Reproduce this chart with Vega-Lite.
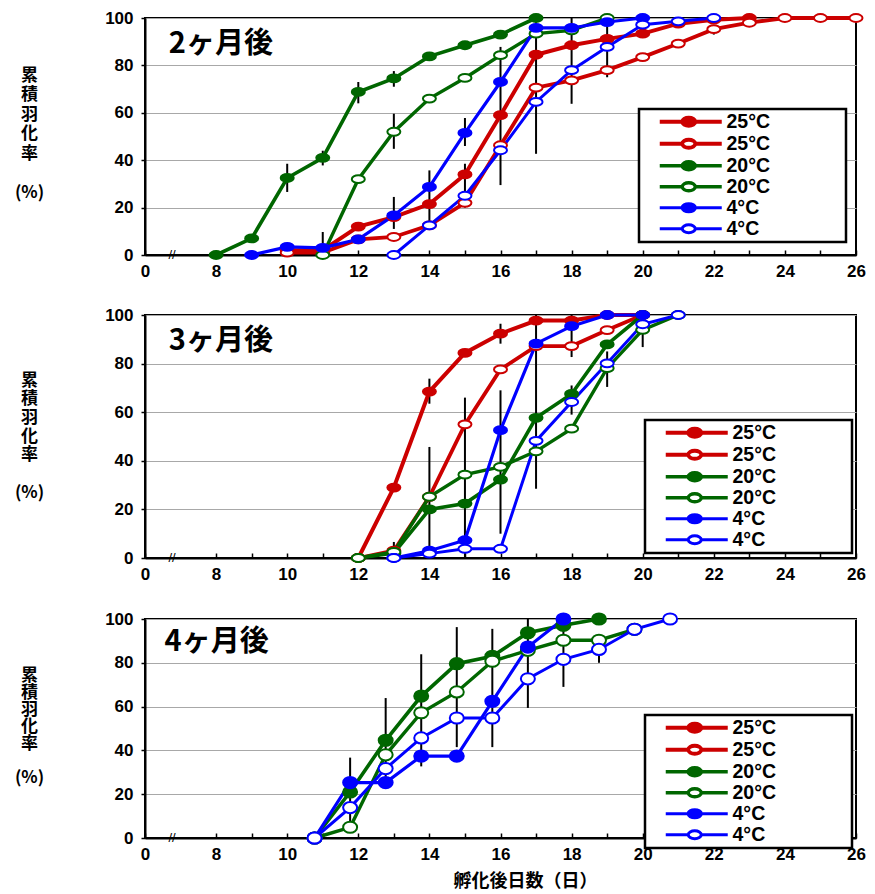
{
"$schema": "https://vega.github.io/schema/vega-lite/v6.json",
"background": "white",
"padding": {"left": 13, "top": 8, "right": 5, "bottom": 5},
"spacing": 25,
"datasets": {
"d2": [
{"s":"25°C f","x":10,"y":2},{"s":"25°C f","x":11,"y":2},{"s":"25°C f","x":12,"y":12},{"s":"25°C f","x":13,"y":16},{"s":"25°C f","x":14,"y":21.5},{"s":"25°C f","x":15,"y":34},{"s":"25°C f","x":16,"y":59},{"s":"25°C f","x":17,"y":84.5},{"s":"25°C f","x":18,"y":88.5},{"s":"25°C f","x":19,"y":91.2},{"s":"25°C f","x":20,"y":93.4},{"s":"25°C f","x":21,"y":97.6},{"s":"25°C f","x":22,"y":99.3},{"s":"25°C f","x":23,"y":100},
{"s":"25°C o","x":10,"y":1},{"s":"25°C o","x":11,"y":1},{"s":"25°C o","x":12,"y":6.6},{"s":"25°C o","x":13,"y":7.6},{"s":"25°C o","x":14,"y":12.5},{"s":"25°C o","x":15,"y":22},{"s":"25°C o","x":16,"y":46.3},{"s":"25°C o","x":17,"y":70.6},{"s":"25°C o","x":18,"y":73.7},{"s":"25°C o","x":19,"y":78},{"s":"25°C o","x":20,"y":83.5},{"s":"25°C o","x":21,"y":89.2},{"s":"25°C o","x":22,"y":95.3},{"s":"25°C o","x":23,"y":98},{"s":"25°C o","x":24,"y":100},{"s":"25°C o","x":25,"y":100},{"s":"25°C o","x":26,"y":100},
{"s":"20°C f","x":8,"y":0},{"s":"20°C f","x":9,"y":7},{"s":"20°C f","x":10,"y":32.5},{"s":"20°C f","x":11,"y":41},{"s":"20°C f","x":12,"y":68.8},{"s":"20°C f","x":13,"y":74.5},{"s":"20°C f","x":14,"y":83.8},{"s":"20°C f","x":15,"y":88.5},{"s":"20°C f","x":16,"y":93},{"s":"20°C f","x":17,"y":100},
{"s":"20°C o","x":11,"y":0},{"s":"20°C o","x":12,"y":32},{"s":"20°C o","x":13,"y":52},{"s":"20°C o","x":14,"y":66},{"s":"20°C o","x":15,"y":74.7},{"s":"20°C o","x":16,"y":84.3},{"s":"20°C o","x":17,"y":93.4},{"s":"20°C o","x":18,"y":94.8},{"s":"20°C o","x":19,"y":100},
{"s":"4°C f","x":9,"y":0},{"s":"4°C f","x":10,"y":3.4},{"s":"4°C f","x":11,"y":3},{"s":"4°C f","x":12,"y":6.6},{"s":"4°C f","x":13,"y":16.7},{"s":"4°C f","x":14,"y":28.7},{"s":"4°C f","x":15,"y":51.5},{"s":"4°C f","x":16,"y":73},{"s":"4°C f","x":17,"y":95.8},{"s":"4°C f","x":18,"y":95.8},{"s":"4°C f","x":19,"y":98.3},{"s":"4°C f","x":20,"y":100},
{"s":"4°C o","x":13,"y":0},{"s":"4°C o","x":14,"y":12.5},{"s":"4°C o","x":15,"y":25},{"s":"4°C o","x":16,"y":44.2},{"s":"4°C o","x":17,"y":64.6},{"s":"4°C o","x":18,"y":78},{"s":"4°C o","x":19,"y":87.8},{"s":"4°C o","x":20,"y":97.2},{"s":"4°C o","x":21,"y":98.6},{"s":"4°C o","x":22,"y":100}
],
"e2": [
{"x":10,"lo":26.6,"hi":38.5},{"x":11,"lo":37.8,"hi":44},{"x":11,"lo":0,"hi":9.7},{"x":12,"lo":64,"hi":73},{"x":13,"lo":71,"hi":77.6},{"x":13,"lo":44.8,"hi":59.6},{"x":13,"lo":11,"hi":24.5},{"x":14,"lo":11,"hi":35.7},{"x":15,"lo":46,"hi":57.8},{"x":15,"lo":20,"hi":38.5},{"x":16,"lo":29.5,"hi":87.8},{"x":17,"lo":42.7,"hi":100},{"x":18,"lo":63.8,"hi":100},{"x":19,"lo":75,"hi":100},{"x":21,"lo":87.5,"hi":90.5},{"x":22,"lo":93,"hi":97}
],
"d3": [
{"s":"25°C f","x":12,"y":0},{"s":"25°C f","x":13,"y":29},{"s":"25°C f","x":14,"y":68.5},{"s":"25°C f","x":15,"y":84.4},{"s":"25°C f","x":16,"y":92.3},{"s":"25°C f","x":17,"y":97.7},{"s":"25°C f","x":18,"y":97.7},{"s":"25°C f","x":19,"y":100},{"s":"25°C f","x":20,"y":100},
{"s":"25°C o","x":12,"y":0},{"s":"25°C o","x":13,"y":3},{"s":"25°C o","x":14,"y":25.2},{"s":"25°C o","x":15,"y":55},{"s":"25°C o","x":16,"y":77.6},{"s":"25°C o","x":17,"y":87.2},{"s":"25°C o","x":18,"y":87.2},{"s":"25°C o","x":19,"y":93.8},{"s":"25°C o","x":20,"y":100},
{"s":"20°C f","x":12,"y":0},{"s":"20°C f","x":13,"y":2},{"s":"20°C f","x":14,"y":20},{"s":"20°C f","x":15,"y":22.4},{"s":"20°C f","x":16,"y":32.3},{"s":"20°C f","x":17,"y":57.7},{"s":"20°C f","x":18,"y":67.5},{"s":"20°C f","x":19,"y":87.9},{"s":"20°C f","x":20,"y":100},
{"s":"20°C o","x":12,"y":0},{"s":"20°C o","x":13,"y":2.5},{"s":"20°C o","x":14,"y":25.2},{"s":"20°C o","x":15,"y":34.3},{"s":"20°C o","x":16,"y":37.5},{"s":"20°C o","x":17,"y":43.9},{"s":"20°C o","x":18,"y":53.2},{"s":"20°C o","x":19,"y":78.1},{"s":"20°C o","x":20,"y":93.9},{"s":"20°C o","x":21,"y":100},
{"s":"4°C f","x":13,"y":0},{"s":"4°C f","x":14,"y":3},{"s":"4°C f","x":15,"y":7.3},{"s":"4°C f","x":16,"y":52.6},{"s":"4°C f","x":17,"y":88.2},{"s":"4°C f","x":18,"y":95.4},{"s":"4°C f","x":19,"y":100},{"s":"4°C f","x":20,"y":100},
{"s":"4°C o","x":13,"y":0},{"s":"4°C o","x":14,"y":1.8},{"s":"4°C o","x":15,"y":3.8},{"s":"4°C o","x":16,"y":3.8},{"s":"4°C o","x":17,"y":48.2},{"s":"4°C o","x":18,"y":64.2},{"s":"4°C o","x":19,"y":80.1},{"s":"4°C o","x":20,"y":96.2},{"s":"4°C o","x":21,"y":100}
],
"e3": [
{"x":13,"lo":0,"hi":6.6},{"x":14,"lo":63.5,"hi":73.8},{"x":14,"lo":0,"hi":45.7},{"x":15,"lo":0,"hi":66},{"x":16,"lo":88.2,"hi":96.4},{"x":16,"lo":10,"hi":69},{"x":17,"lo":28.5,"hi":100},{"x":18,"lo":82.7,"hi":100},{"x":18,"lo":59,"hi":71},{"x":19,"lo":70.4,"hi":85},{"x":20,"lo":86.8,"hi":95}
],
"d4": [
{"s":"20°C f","x":10.77,"y":0},{"s":"20°C f","x":11.77,"y":21},{"s":"20°C f","x":12.77,"y":44.6},{"s":"20°C f","x":13.77,"y":64.8},{"s":"20°C f","x":14.77,"y":79.6},{"s":"20°C f","x":15.77,"y":83},{"s":"20°C f","x":16.77,"y":93.7},{"s":"20°C f","x":17.77,"y":97.1},{"s":"20°C f","x":18.77,"y":100},
{"s":"20°C o","x":10.77,"y":0},{"s":"20°C o","x":11.77,"y":4.9},{"s":"20°C o","x":12.77,"y":38},{"s":"20°C o","x":13.77,"y":57.2},{"s":"20°C o","x":14.77,"y":66.7},{"s":"20°C o","x":15.77,"y":80.7},{"s":"20°C o","x":16.77,"y":85.7},{"s":"20°C o","x":17.77,"y":90.3},{"s":"20°C o","x":18.77,"y":90.3},{"s":"20°C o","x":19.77,"y":95.3},
{"s":"4°C f","x":10.77,"y":0},{"s":"4°C f","x":11.77,"y":25.3},{"s":"4°C f","x":12.77,"y":25.3},{"s":"4°C f","x":13.77,"y":37.4},{"s":"4°C f","x":14.77,"y":37.4},{"s":"4°C f","x":15.77,"y":62.4},{"s":"4°C f","x":16.77,"y":87.2},{"s":"4°C f","x":17.77,"y":100},
{"s":"4°C o","x":10.77,"y":0},{"s":"4°C o","x":11.77,"y":13.9},{"s":"4°C o","x":12.77,"y":31.7},{"s":"4°C o","x":13.77,"y":45.7},{"s":"4°C o","x":14.77,"y":54.8},{"s":"4°C o","x":15.77,"y":54.8},{"s":"4°C o","x":16.77,"y":72.7},{"s":"4°C o","x":17.77,"y":81.6},{"s":"4°C o","x":18.77,"y":86.1},{"s":"4°C o","x":19.77,"y":95.3},{"s":"4°C o","x":20.77,"y":100}
],
"e4": [
{"x":11.77,"lo":6.5,"hi":36.7},{"x":12.77,"lo":27,"hi":63.9},{"x":13.77,"lo":32.7,"hi":83.9},{"x":14.77,"lo":41.5,"hi":96.3},{"x":15.77,"lo":41.5,"hi":95.5},{"x":16.77,"lo":59.4,"hi":100},{"x":17.77,"lo":69,"hi":100},{"x":18.77,"lo":80,"hi":85}
]
},
"resolve": {
"scale": {"stroke": "independent", "fill": "independent", "strokeWidth": "independent"},
"legend": {"stroke": "independent", "fill": "independent", "strokeWidth": "independent"}
},
"vconcat": [
{
"width": 711, "height": 237,
"resolve": {"axis": {"x": "independent"}},
"layer": [
{"data": {"name": "e2"}, "mark": {"type": "rule", "color": "black", "strokeWidth": 2},
 "encoding": {"x": {"field": "x", "type": "quantitative", "scale": {"domain": [6, 26], "nice": false, "zero": false},
   "axis": {"orient": "bottom", "values": [6,8,10,12,14,16,18,20,22,24,26], "labelExpr": "datum.value == 6 ? '0' : datum.label", "tickSize": -5, "labelPadding": 13, "grid": false, "title": null, "labelFlush": false}},
  "y": {"field": "lo", "type": "quantitative", "scale": {"domain": [0, 100], "nice": false},
   "axis": {"values": [0,20,40,60,80,100], "tickSize": 4, "labelPadding": 8, "grid": true, "title": ["累","積","羽","化","率","\u200b","(%)"], "titleAngle": 0, "titleAlign": "center", "titleBaseline": "middle", "titleX": -116, "titleY": 57, "titleFontSize": 17, "titleLineHeight": 19.5}},
  "y2": {"field": "hi"}}},
{"data": {"name": "d2"}, "mark": {"type": "line"},
 "encoding": {"x": {"field": "x", "type": "quantitative", "axis": {"orient": "bottom", "values": [9,11,13,15,17,19,21,23,25], "labels": false, "domain": false, "grid": false, "title": null, "tickSize": -5}}, "y": {"field": "y", "type": "quantitative"},
  "stroke": {"field": "s", "type": "nominal", "scale": {"domain": ["25°C f","25°C o","20°C f","20°C o","4°C f","4°C o"], "range": ["#cc0000","#cc0000","#006600","#006600","#0000ff","#0000ff"]},
   "legend": {"orient": "none", "legendX": 494, "legendY": 91, "title": null, "labelExpr": "slice(datum.label, 0, -2)"}},
  "strokeWidth": {"field": "s", "type": "nominal", "scale": {"domain": ["25°C f","25°C o","20°C f","20°C o","4°C f","4°C o"], "range": [4, 3, 4.5, 3.5, 5.5, 3.5]}, "legend": {"orient": "none", "legendX": 494, "legendY": 91, "title": null, "labelExpr": "slice(datum.label, 0, -2)"}}}},
{"data": {"name": "d2"}, "mark": {"type": "point", "shape": "M-1,0A1,0.6 0 1,0 1,0A1,0.6 0 1,0 -1,0Z", "size": 169, "filled": true, "opacity": 1, "strokeWidth": 2},
 "encoding": {"x": {"field": "x", "type": "quantitative", "axis": null}, "y": {"field": "y", "type": "quantitative"},
  "stroke": {"field": "s", "type": "nominal"},
  "fill": {"field": "s", "type": "nominal", "scale": {"domain": ["25°C f","25°C o","20°C f","20°C o","4°C f","4°C o"], "range": ["#cc0000","#ffffff","#006600","#ffffff","#0000ff","#ffffff"]}, "legend": {"orient": "none", "legendX": 494, "legendY": 91, "title": null, "labelExpr": "slice(datum.label, 0, -2)"}}}},
{"data": {"values": [{"t": "2ヶ月後"}]}, "mark": {"type": "text", "align": "left", "baseline": "middle", "font": "Noto Sans CJK JP", "fontWeight": "bold", "fontSize": 29, "color": "black"},
 "encoding": {"x": {"datum": 6.67, "type": "quantitative", "axis": null}, "y": {"datum": 89}, "text": {"field": "t"}}},
{"data": {"values": [{"t": "//"}]}, "mark": {"type": "text", "align": "center", "baseline": "middle", "font": "Liberation Sans", "fontSize": 13, "color": "black"},
 "encoding": {"x": {"datum": 6.76, "type": "quantitative", "axis": null}, "y": {"datum": 0}, "text": {"field": "t"}}}
]
},
{
"width": 711, "height": 243,
"resolve": {"axis": {"x": "independent"}},
"layer": [
{"data": {"name": "e3"}, "mark": {"type": "rule", "color": "black", "strokeWidth": 2},
 "encoding": {"x": {"field": "x", "type": "quantitative", "scale": {"domain": [6, 26], "nice": false, "zero": false},
   "axis": {"orient": "bottom", "values": [6,8,10,12,14,16,18,20,22,24,26], "labelExpr": "datum.value == 6 ? '0' : datum.label", "tickSize": -5, "labelPadding": 13, "grid": false, "title": null, "labelFlush": false}},
  "y": {"field": "lo", "type": "quantitative", "scale": {"domain": [0, 100], "nice": false},
   "axis": {"values": [0,20,40,60,80,100], "tickSize": 4, "labelPadding": 8, "grid": true, "title": ["累","積","羽","化","率","\u200b","(%)"], "titleAngle": 0, "titleAlign": "center", "titleBaseline": "middle", "titleX": -116, "titleY": 65, "titleFontSize": 17, "titleLineHeight": 18.7}},
  "y2": {"field": "hi"}}},
{"data": {"name": "d3"}, "mark": {"type": "line"},
 "encoding": {"x": {"field": "x", "type": "quantitative", "axis": {"orient": "bottom", "values": [9,11,13,15,17,19,21,23,25], "labels": false, "domain": false, "grid": false, "title": null, "tickSize": -5}}, "y": {"field": "y", "type": "quantitative"},
  "stroke": {"field": "s", "type": "nominal", "scale": {"domain": ["25°C f","25°C o","20°C f","20°C o","4°C f","4°C o"], "range": ["#cc0000","#cc0000","#006600","#006600","#0000ff","#0000ff"]},
   "legend": {"orient": "none", "legendX": 500, "legendY": 105, "title": null, "labelExpr": "slice(datum.label, 0, -2)"}},
  "strokeWidth": {"field": "s", "type": "nominal", "scale": {"domain": ["25°C f","25°C o","20°C f","20°C o","4°C f","4°C o"], "range": [4, 3, 4.5, 3.5, 5.5, 3.5]}, "legend": {"orient": "none", "legendX": 500, "legendY": 105, "title": null, "labelExpr": "slice(datum.label, 0, -2)"}}}},
{"data": {"name": "d3"}, "mark": {"type": "point", "shape": "M-1,0A1,0.6 0 1,0 1,0A1,0.6 0 1,0 -1,0Z", "size": 169, "filled": true, "opacity": 1, "strokeWidth": 2},
 "encoding": {"x": {"field": "x", "type": "quantitative", "axis": null}, "y": {"field": "y", "type": "quantitative"},
  "stroke": {"field": "s", "type": "nominal"},
  "fill": {"field": "s", "type": "nominal", "scale": {"domain": ["25°C f","25°C o","20°C f","20°C o","4°C f","4°C o"], "range": ["#cc0000","#ffffff","#006600","#ffffff","#0000ff","#ffffff"]}, "legend": {"orient": "none", "legendX": 500, "legendY": 105, "title": null, "labelExpr": "slice(datum.label, 0, -2)"}}}},
{"data": {"values": [{"t": "3ヶ月後"}]}, "mark": {"type": "text", "align": "left", "baseline": "middle", "font": "Noto Sans CJK JP", "fontWeight": "bold", "fontSize": 29, "color": "black"},
 "encoding": {"x": {"datum": 6.67, "type": "quantitative", "axis": null}, "y": {"datum": 89.3}, "text": {"field": "t"}}},
{"data": {"values": [{"t": "//"}]}, "mark": {"type": "text", "align": "center", "baseline": "middle", "font": "Liberation Sans", "fontSize": 13, "color": "black"},
 "encoding": {"x": {"datum": 6.76, "type": "quantitative", "axis": null}, "y": {"datum": 0}, "text": {"field": "t"}}}
]
},
{
"width": 711, "height": 219,
"resolve": {"axis": {"x": "independent"}},
"layer": [
{"data": {"name": "e4"}, "mark": {"type": "rule", "color": "black", "strokeWidth": 2},
 "encoding": {"x": {"field": "x", "type": "quantitative", "scale": {"domain": [6, 26], "nice": false, "zero": false},
   "axis": {"orient": "bottom", "values": [6,8,10,12,14,16,18,20,22,24,26], "labelExpr": "datum.value == 6 ? '0' : datum.label", "tickSize": -5, "labelPadding": 13, "grid": false, "title": "孵化後日数（日）", "titleFontSize": 18, "titlePadding": 10, "titleX": 380, "labelFlush": false}},
  "y": {"field": "lo", "type": "quantitative", "scale": {"domain": [0, 100], "nice": false},
   "axis": {"values": [0,20,40,60,80,100], "tickSize": 4, "labelPadding": 8, "grid": true, "title": ["累","積","羽","化","率","\u200b","(%)"], "titleAngle": 0, "titleAlign": "center", "titleBaseline": "middle", "titleX": -116, "titleY": 56, "titleFontSize": 17, "titleLineHeight": 17}},
  "y2": {"field": "hi"}}},
{"data": {"name": "d4"}, "mark": {"type": "line"},
 "encoding": {"x": {"field": "x", "type": "quantitative", "axis": {"orient": "bottom", "values": [9,11,13,15,17,19,21,23,25], "labels": false, "domain": false, "grid": false, "title": null, "tickSize": -5}}, "y": {"field": "y", "type": "quantitative"},
  "stroke": {"field": "s", "type": "nominal", "scale": {"domain": ["25°C f","25°C o","20°C f","20°C o","4°C f","4°C o"], "range": ["#cc0000","#cc0000","#006600","#006600","#0000ff","#0000ff"]},
   "legend": {"orient": "none", "legendX": 500, "legendY": 96, "title": null, "labelExpr": "slice(datum.label, 0, -2)"}},
  "strokeWidth": {"field": "s", "type": "nominal", "scale": {"domain": ["25°C f","25°C o","20°C f","20°C o","4°C f","4°C o"], "range": [4, 3, 4.5, 3.5, 5.5, 3.5]}, "legend": {"orient": "none", "legendX": 500, "legendY": 96, "title": null, "labelExpr": "slice(datum.label, 0, -2)"}}}},
{"data": {"name": "d4"}, "mark": {"type": "point", "shape": "M-1,0A1,0.8 0 1,0 1,0A1,0.8 0 1,0 -1,0Z", "size": 196, "filled": true, "opacity": 1, "strokeWidth": 2},
 "encoding": {"x": {"field": "x", "type": "quantitative", "axis": null}, "y": {"field": "y", "type": "quantitative"},
  "stroke": {"field": "s", "type": "nominal"},
  "fill": {"field": "s", "type": "nominal", "scale": {"domain": ["25°C f","25°C o","20°C f","20°C o","4°C f","4°C o"], "range": ["#cc0000","#ffffff","#006600","#ffffff","#0000ff","#ffffff"]}, "legend": {"orient": "none", "legendX": 500, "legendY": 96, "title": null, "labelExpr": "slice(datum.label, 0, -2)"}}}},
{"data": {"values": [{"t": "4ヶ月後"}]}, "mark": {"type": "text", "align": "left", "baseline": "middle", "font": "Noto Sans CJK JP", "fontWeight": "bold", "fontSize": 29, "color": "black"},
 "encoding": {"x": {"datum": 6.55, "type": "quantitative", "axis": null}, "y": {"datum": 89.5}, "text": {"field": "t"}}},
{"data": {"values": [{"t": "//"}]}, "mark": {"type": "text", "align": "center", "baseline": "middle", "font": "Liberation Sans", "fontSize": 13, "color": "black"},
 "encoding": {"x": {"datum": 6.76, "type": "quantitative", "axis": null}, "y": {"datum": 0}, "text": {"field": "t"}}}
]
}
],
"config": {
"view": {"stroke": "black", "strokeWidth": 2},
"axis": {"labelFont": "Liberation Sans", "labelFontWeight": "bold", "labelFontSize": 17, "labelColor": "black", "domainColor": "black", "domainWidth": 2, "tickColor": "black", "tickWidth": 1.5, "gridColor": "#a8a8a8", "gridWidth": 1, "titleFont": "Noto Sans CJK JP", "titleFontWeight": "bold", "titleColor": "black"},
"legend": {"symbolType": "M1.6,0H6.1M8.7,0H14M6.1,0A1.3,0.8 0 1,0 8.7,0A1.3,0.8 0 1,0 6.1,0ZM36.6,0", "symbolSize": 100, "labelFont": "Liberation Sans", "labelFontSize": 19.5, "labelFontWeight": "bold", "labelColor": "black", "labelOffset": 65, "strokeColor": "black", "strokeWidth": 2.5, "fillColor": "white", "padding": 3, "rowPadding": -6, "symbolStrokeWidth": 3}
}
}
